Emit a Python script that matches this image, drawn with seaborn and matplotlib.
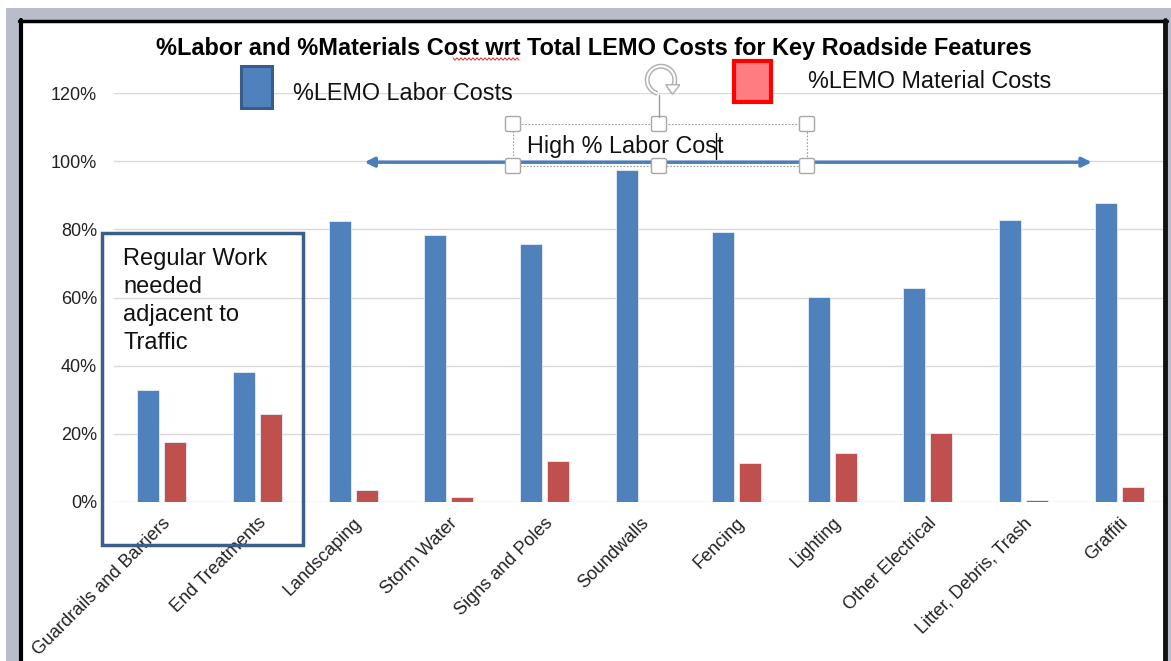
import matplotlib
matplotlib.use("Agg")
import matplotlib.pyplot as plt
import matplotlib.patches as mpatches
import numpy as np
import pandas as pd
import seaborn as sns

features = ["Guardrails and Barriers", "End Treatments", "Landscaping", "Storm Water",
            "Signs and Poles", "Soundwalls", "Fencing", "Lighting", "Other Electrical",
            "Litter, Debris, Trash", "Graffiti"]
labor_pct = [0.33, 0.38, 0.825, 0.783, 0.757, 0.975, 0.792, 0.601, 0.628, 0.826, 0.877]
material_pct = [0.176, 0.258, 0.035, 0.015, 0.12, 0.0, 0.115, 0.145, 0.203, 0.005, 0.043]
series_names = ["%LEMO Labor Costs", "%LEMO Material Costs"]
y_ticks = [0, 0.2, 0.4, 0.6, 0.8, 1.0, 1.2]

BLUE = "#4F81BD"
RED = "#C0504D"
W, H = 1171, 661

df = pd.DataFrame({
    "feature": features * 2,
    "pct": labor_pct + material_pct,
    "series": [series_names[0]] * len(features) + [series_names[1]] * len(features),
})

sns.set_theme(style="white")
plt.rcParams["font.family"] = ["Liberation Sans", "DejaVu Sans"]

fig = plt.figure(figsize=(W / 100, H / 100), dpi=100)
fig.patch.set_facecolor("white")


def fx(x):
    return x / W


def fy(y):
    return 1 - y / H


ax = fig.add_axes([fx(113.6), fy(502), fx(1167.4) - fx(113.6), fy(93) - fy(502)])
sns.barplot(data=df, x="feature", y="pct", hue="series", palette=[BLUE, RED],
            saturation=1, width=0.564, gap=0.18, edgecolor="#E6ECF5", linewidth=0.6,
            legend=False, ax=ax)

ax.set_ylim(0, 1.2)
ax.set_yticks(y_ticks)
ax.set_yticklabels([f"{int(round(t * 100))}%" for t in y_ticks], fontsize=13, color="#222222")
ax.yaxis.grid(True, color="#D9D9D9", linewidth=1)
ax.set_axisbelow(True)
for s in ax.spines.values():
    s.set_visible(False)
ax.tick_params(axis="y", length=0, pad=12)
ax.tick_params(axis="x", length=0, pad=9)
ax.set_xlabel("")
ax.set_ylabel("")
ax.set_xticks(range(len(features)))
ax.set_xticklabels(features, rotation=45, ha="right", va="top",
                   rotation_mode="anchor", fontsize=13, color="#222222")
ax.set_xlim(-0.5, len(features) - 0.5)

# title
fig.text(fx(594), fy(48), "%Labor and %Materials Cost wrt Total LEMO Costs for Key Roadside Features",
         ha="center", va="center", fontsize=16.9, fontweight="bold", color="black")
# spell-check squiggle under "wrt"
sx = np.linspace(453, 519, 34)
sy = 59 + np.where(np.arange(34) % 2 == 0, -1.2, 1.2)
fig.add_artist(plt.Line2D(fx(sx), fy(sy), color="#E03030", lw=0.7, transform=fig.transFigure))

# legend drawn like the original shapes
fig.add_artist(mpatches.Rectangle((fx(241), fy(108)), fx(272) - fx(241), fy(66) - fy(108),
                                  facecolor=BLUE, edgecolor="#385D8A", lw=2.2,
                                  transform=fig.transFigure))
fig.text(fx(293), fy(94), series_names[0], ha="left", va="center", fontsize=16.8, color="#111111")
fig.add_artist(mpatches.Rectangle((fx(734), fy(102)), fx(771) - fx(734), fy(61) - fy(102),
                                  facecolor="#FF7C80", edgecolor="#FF0000", lw=3,
                                  transform=fig.transFigure))
fig.text(fx(808), fy(82), series_names[1], ha="left", va="center", fontsize=16.8, color="#111111")

# double arrow "High % Labor Cost"
ax.annotate("", xy=(9.71, 0.997), xytext=(2.12, 0.997), xycoords="data",
            arrowprops=dict(arrowstyle="<|-|>", color="#4A7EBB", lw=2.5,
                            mutation_scale=14, shrinkA=0, shrinkB=0),
            annotation_clip=False)

# selected text box with handles
hx = [513, 659, 807]
hy = [124, 166]
fig.add_artist(mpatches.Rectangle((fx(513), fy(166)), fx(807) - fx(513), fy(124) - fy(166),
                                  facecolor="none", edgecolor="#9A9A9A", lw=0.8,
                                  linestyle=(0, (1.5, 1.5)), transform=fig.transFigure))
fig.text(fx(527), fy(146), "High % Labor Cost", ha="left", va="center", fontsize=16.8, color="#111111")
fig.add_artist(plt.Line2D([fx(716), fx(716)], [fy(133), fy(159)], color="black", lw=1,
                          transform=fig.transFigure))
fig.add_artist(plt.Line2D([fx(659), fx(659)], [fy(95), fy(117)], color="#9A9A9A", lw=1,
                          transform=fig.transFigure))
for x in hx:
    for y in hy:
        fig.add_artist(mpatches.FancyBboxPatch((fx(x - 7.5), fy(y + 7.5)), fx(15), 15 / H,
                                               boxstyle="round,pad=0,rounding_size=0.002",
                                               facecolor="white", edgecolor="#A8A8A8", lw=1,
                                               transform=fig.transFigure))
# rotation handle
rot_ax = fig.add_axes([fx(642), fy(99), fx(38), 38 / H])
rot_ax.set_xlim(-1, 1)
rot_ax.set_ylim(-1, 1)
rot_ax.axis("off")
rot_ax.add_patch(mpatches.Arc((0, 0), 1.45, 1.45, theta1=-55, theta2=255, color="#B0B0B0", lw=3.6))
rot_ax.add_patch(mpatches.Arc((0, 0), 1.45, 1.45, theta1=-55, theta2=255, color="white", lw=1.5))
rot_ax.add_patch(mpatches.Polygon([[0.25, -0.25], [1.0, -0.25], [0.6, -0.75]], closed=True,
                                  facecolor="white", edgecolor="#B0B0B0", lw=1))

# box around features next to traffic
ax.add_patch(mpatches.Rectangle((-0.626, -0.126), 1.48 + 0.626, 0.789 + 0.126,
                                facecolor="none", edgecolor="#3B5E8C", lw=2.5,
                                clip_on=False, zorder=5))
fig.text(fx(123), fy(248), "Regular Work\nneeded\nadjacent to\nTraffic", ha="left", va="top",
         fontsize=17, linespacing=1.36, color="#111111")

# screenshot frame
grey = "#B9BCCB"
fig.add_artist(mpatches.Rectangle((fx(6), fy(20)), 1, fy(8) - fy(20), facecolor=grey,
                                  edgecolor="none", transform=fig.transFigure, zorder=10))
fig.add_artist(mpatches.Rectangle((fx(6), 0), fx(13), fy(8), facecolor=grey,
                                  edgecolor="none", transform=fig.transFigure, zorder=10))
fig.add_artist(mpatches.Rectangle((fx(1167), 0), fx(4), fy(8), facecolor=grey,
                                  edgecolor="none", transform=fig.transFigure, zorder=10))
fig.add_artist(plt.Line2D([fx(20.5), fx(20.5)], [0, fy(20)], color="black", lw=3,
                          transform=fig.transFigure, zorder=11))
fig.add_artist(plt.Line2D([fx(19), fx(1167)], [fy(21), fy(21)], color="black", lw=2.5,
                          transform=fig.transFigure, zorder=11))
fig.add_artist(plt.Line2D([fx(1164.5), fx(1164.5)], [0, fy(20)], color="#111111", lw=3.5,
                          transform=fig.transFigure, zorder=11))

fig.savefig("out.png", dpi=100)
